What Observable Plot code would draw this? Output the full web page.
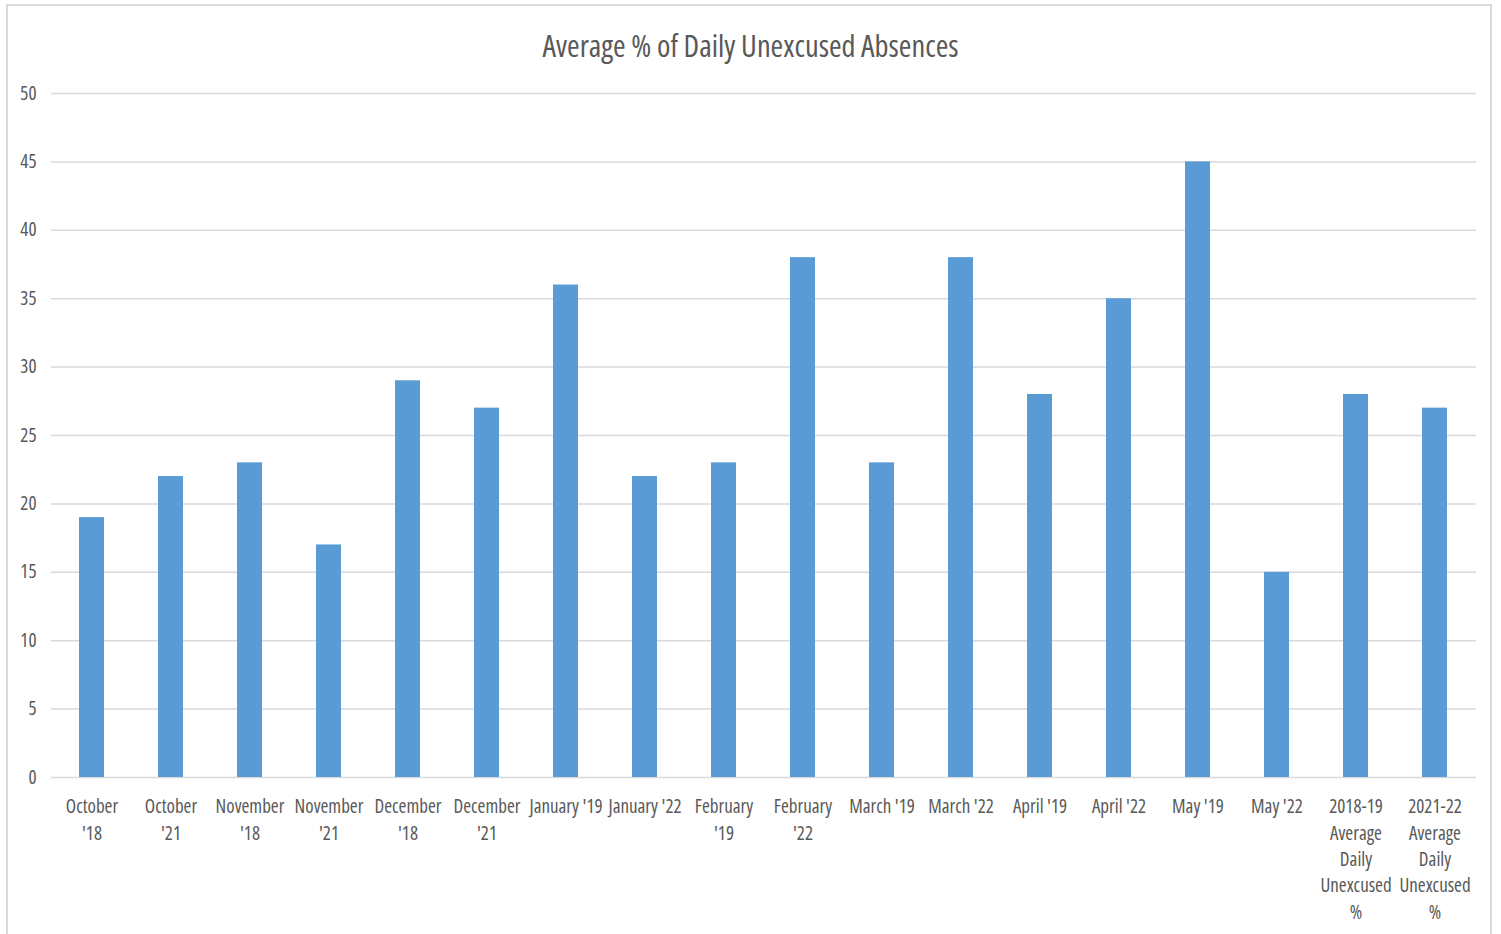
<!DOCTYPE html>
<html>
<head>
<meta charset="utf-8">
<script src="https://cdn.jsdelivr.net/npm/d3@7"></script>
<script src="https://cdn.jsdelivr.net/npm/@observablehq/plot@0.6"></script>
<style>
  html, body { margin: 0; padding: 0; background: #fff; overflow: hidden; }
  #frame { position: absolute; left: 6px; top: 4px; width: 1486px; height: 960px; border: 2px solid #d9d9d9; box-sizing: border-box; }
  #title { position: absolute; left: 0; top: 26px; width: 1501px; text-align: center; font-family: "Open Sans", sans-serif; font-stretch: 75%; font-size: 30.5px; color: #595959; line-height: 38px; }
  #chart { position: absolute; left: 0; top: 75px; }
  #chart svg text { font-stretch: 75%; }
</style>
</head>
<body>
<div id="frame"></div>
<div id="title">Average % of Daily Unexcused Absences</div>
<div id="chart"></div>
<script>
const categories = [
  "October\n'18", "October\n'21", "November\n'18", "November\n'21",
  "December\n'18", "December\n'21", "January '19", "January '22",
  "February\n'19", "February\n'22", "March '19", "March '22",
  "April '19", "April '22", "May '19", "May '22",
  "2018-19\nAverage\nDaily\nUnexcused\n%", "2021-22\nAverage\nDaily\nUnexcused\n%"
];
const values = [19, 22, 23, 17, 29, 27, 36, 22, 23, 38, 23, 38, 28, 35, 45, 15, 28, 27];
const yTicks = [0, 5, 10, 15, 20, 25, 30, 35, 40, 45, 50];

const data = categories.map((c, i) => ({category: c, value: values[i]}));

const chart = Plot.plot({
  width: 1501,
  height: 859,
  marginTop: 18,
  marginBottom: 157,
  marginLeft: 51,
  marginRight: 25,
  style: {fontFamily: "'Open Sans', sans-serif", fontSize: "19px", color: "#595959", background: "transparent"},
  x: {domain: categories, paddingInner: 0.68, paddingOuter: 0.34, label: null},
  y: {domain: [0, 50], label: null},
  marks: [
    Plot.gridY(yTicks, {stroke: "#d9d9d9", strokeOpacity: 1, strokeWidth: 1.5}),
    Plot.barY(data, {x: "category", y: "value", fill: "#5B9BD5"}),
    Plot.axisY(yTicks, {tickSize: 0, tickPadding: 15, fill: "#595959", fontSize: 19, label: null}),
    Plot.axisX({tickSize: 0, tickPadding: 17, fill: "#595959", fontSize: 19, lineHeight: 1.39, label: null})
  ]
});
document.getElementById("chart").appendChild(chart);
</script>
</body>
</html>
